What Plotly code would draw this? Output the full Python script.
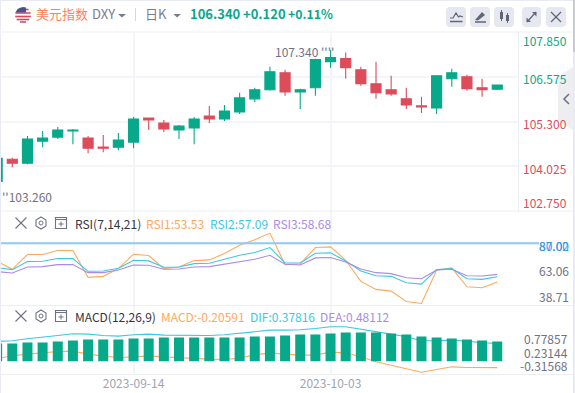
import math
import plotly.graph_objects as go

# ---------- data ----------
dates = ["2023-09-01","2023-09-04","2023-09-05","2023-09-06","2023-09-07","2023-09-08","2023-09-11","2023-09-12","2023-09-13","2023-09-14",
         "2023-09-15","2023-09-18","2023-09-19","2023-09-20","2023-09-21","2023-09-22","2023-09-25","2023-09-26","2023-09-27","2023-09-28",
         "2023-09-29","2023-10-02","2023-10-03","2023-10-04","2023-10-05","2023-10-06","2023-10-09","2023-10-10","2023-10-11","2023-10-12",
         "2023-10-13","2023-10-16","2023-10-17","2023-10-18"]
opens  = [103.595,104.225,104.111,104.741,104.856,105.028,104.827,104.569,104.569,104.713,105.400,105.257,105.056,105.114,105.458,105.372,
          105.572,105.945,106.203,106.690,106.145,106.260,107.005,107.091,106.776,106.374,106.203,105.945,105.744,105.687,106.518,106.575,106.260,106.220]
highs  = [104.260,104.264,104.884,105.028,105.142,105.085,104.884,104.913,104.970,105.429,105.400,105.343,105.200,105.429,105.744,105.773,
          106.117,106.260,106.862,106.776,106.231,107.091,107.340,107.263,106.862,107.005,106.604,106.260,106.002,106.604,106.804,106.632,106.518,106.345]
lows   = [103.260,103.996,104.082,104.569,104.799,104.655,104.397,104.426,104.483,104.541,105.056,104.999,104.799,104.655,105.257,105.314,
          105.515,105.859,106.174,106.031,105.658,106.031,106.833,106.518,106.317,105.945,106.031,105.658,105.544,105.515,106.288,106.174,106.002,106.200]
closes = [104.254,104.111,104.799,104.827,105.056,105.056,104.541,104.541,104.770,105.372,105.343,105.085,105.171,105.372,105.372,105.601,
          105.973,106.203,106.718,106.145,106.203,107.062,107.119,106.833,106.374,106.117,106.088,105.773,105.715,106.604,106.690,106.231,106.203,106.340]

rsi1 = [67.70,62.18,72.30,72.30,75.06,75.06,56.65,57.34,62.64,72.53,71.61,62.64,63.79,68.16,68.62,72.99,78.74,82.42,87.02,
        65.40,65.86,77.13,77.59,68.39,53.89,48.37,47.22,40.09,38.71,61.49,63.10,50.21,49.52,53.53]
rsi2 = [63.33,61.95,67.47,67.70,69.54,69.54,60.79,61.02,62.87,68.39,67.93,63.56,63.79,66.09,66.32,69.08,71.84,73.68,77.13,
        66.55,66.55,73.22,73.45,67.93,61.02,57.80,57.34,52.97,52.05,61.95,62.64,55.73,55.27,57.09]
rsi3 = [60.56,59.64,63.79,64.02,65.40,65.40,59.87,59.87,61.72,65.17,64.94,62.18,62.41,63.79,64.02,65.86,67.70,69.08,71.84,
        65.63,65.17,70.00,70.23,67.24,62.41,59.87,59.18,56.42,55.73,61.72,62.18,57.80,57.57,58.68]
rsi_level = 80.0

macd_line = [0.0145,0.0788,0.1189,0.1510,0.1832,0.1912,0.1189,0.0707,0.0386,0.0547,0.0788,0.0547,0.0305,0.0065,-0.0015,-0.0096,0.0225,0.1028,0.1510,
             0.1189,0.0948,0.0948,0.1671,0.1510,0.0547,-0.0658,-0.1462,-0.2426,-0.3157,-0.2506,-0.1863,-0.2023,-0.2104,-0.2059]
dif_line  = [0.4241,0.4402,0.4884,0.5205,0.5687,0.6089,0.6008,0.5687,0.5526,0.5848,0.6008,0.5767,0.5687,0.5687,0.5687,0.5848,0.6169,0.6570,0.6972,
             0.6972,0.7052,0.7374,0.7786,0.7786,0.7133,0.6570,0.6008,0.5366,0.4402,0.4402,0.4562,0.4321,0.3920,0.3782]
macd_bar_top = [0.3760,0.3760,0.4001,0.4001,0.4241,0.4482,0.4723,0.4723,0.4723,0.4965,0.4965,0.5205,0.5205,0.5205,0.5205,0.5205,0.5205,0.5446,0.5446,
                0.5687,0.5928,0.5928,0.6169,0.6410,0.6410,0.6410,0.6169,0.5928,0.5446,0.5205,0.4965,0.4723,0.4482,0.4241]
macd_bar_base = -0.05

date_ticks = ["2023-09-14","2023-10-03"]
price_grid = [106.575,105.300,104.025]

UP, DOWN = "#08A88B", "#DD4C5A"
ORANGE, CYAN, PURPLE, BLUE = "#FFA95E", "#3CC8E2", "#A98BE8", "#8CC8FA"
GRID, SEP, GRAY = "#F4F5F8", "#ECEEF2", "#6F7285"
FONT = "Noto Sans CJK SC"
W, H = 575, 393

def px(x): return x / W
def py(y): return 1 - y / H

fig = go.Figure()
fig.add_trace(go.Candlestick(x=dates, open=opens, high=highs, low=lows, close=closes, xaxis="x", yaxis="y",
    increasing=dict(line=dict(color=UP, width=1.1), fillcolor=UP),
    decreasing=dict(line=dict(color=DOWN, width=1.1), fillcolor=DOWN), showlegend=False, hoverinfo="skip"))
for vals, c in ((rsi1, ORANGE), (rsi2, CYAN), (rsi3, PURPLE)):
    fig.add_trace(go.Scatter(x=dates, y=vals, mode="lines", xaxis="x", yaxis="y2", line=dict(color=c, width=1.1), showlegend=False, hoverinfo="skip"))
for vals, c in ((macd_line, ORANGE), (dif_line, CYAN)):
    fig.add_trace(go.Scatter(x=dates, y=vals, mode="lines", xaxis="x", yaxis="y3", line=dict(color=c, width=1.1), showlegend=False, hoverinfo="skip"))
fig.add_trace(go.Bar(x=dates, y=[t - macd_bar_base for t in macd_bar_top], base=macd_bar_base, xaxis="x", yaxis="y4",
                     marker=dict(color=UP, line=dict(width=0)), width=0.66, showlegend=False, hoverinfo="skip"))

shapes = []
def rect(x0, y0, x1, y1, fill, line=None, w=0):
    shapes.append(dict(type="rect", xref="paper", yref="paper", x0=px(x0), y0=py(y0), x1=px(x1), y1=py(y1),
                       fillcolor=fill, line=dict(color=line or fill, width=w), layer="above"))
def seg(x0, y0, x1, y1, c, w=1):
    shapes.append(dict(type="line", xref="paper", yref="paper", x0=px(x0), y0=py(y0), x1=px(x1), y1=py(y1),
                       line=dict(color=c, width=w), layer="above"))
def poly(pts, fill=None, line=None, w=1, close=True):
    d = "M" + " L".join(f"{px(a):.5f},{py(b):.5f}" for a, b in pts) + (" Z" if close else "")
    shapes.append(dict(type="path", xref="paper", yref="paper", path=d, fillcolor=fill or "rgba(0,0,0,0)",
                       line=dict(color=line or "rgba(0,0,0,0)", width=w), layer="above"))

# frame
rect(0, 0, 1, H, "#E8EBF3"); rect(0, 0, W, 1, "#E8EBF3"); rect(573, 0, W, H, "#E8EBF3"); rect(573, 0, W, 52, "#C9CBD3")
# separators
seg(0, 32, 573, 32, GRID, 1.5)
seg(1, 211, 573, 211, SEP); seg(1, 305.5, 573, 305.5, SEP); seg(1, 374.5, 573, 374.5, SEP)
seg(518.5, 32, 518.5, 211, SEP)
seg(135.5, 8, 135.5, 21, "#D5D7DF")
# RSI level line runs across the axis gutter
shapes.append(dict(type="line", xref="paper", yref="y2", x0=px(1), x1=px(539), y0=rsi_level, y1=rsi_level,
                   line=dict(color=BLUE, width=2), layer="above"))
# collapse tab
poly([(558, 77), (573, 67), (573, 130), (558, 121)], fill="#EEEEF1")
poly([(569, 94), (564, 99), (569, 104)], line="#6F7285", w=1.6, close=False)
# flag
poly([(23 + 8 * math.cos(a / 16 * 6.2832), 15 + 8 * math.sin(a / 16 * 6.2832)) for a in range(16)], fill="#F3F3F5")
for yy, half in ((9.5, 5.5), (13, 7.6), (16.5, 7.8), (19.5, 6.3), (22, 3)):
    seg(23 - half, yy, 23 + half, yy, "#D9475A", 1.5)
poly([(15.5, 12.5), (17, 10), (19.5, 8), (23, 7), (26, 7.6), (26, 12.5)], fill="#4A5290")
# dropdown arrows
poly([(118, 14), (126, 14), (122, 17.5)], fill="#7A7D8F")
poly([(173.5, 14), (181, 14), (177, 17.5)], fill="#7A7D8F")
# buttons
for a, b in ((446, 466), (470, 490), (494, 514), (522, 541), (546, 566)):
    shapes.append(dict(type="path", xref="paper", yref="paper", layer="above", fillcolor="#E6E8EF", line=dict(width=0),
        path=f"M{px(a+4):.5f},{py(7):.5f} L{px(b-4):.5f},{py(7):.5f} Q{px(b):.5f},{py(7):.5f} {px(b):.5f},{py(11):.5f} "
             f"L{px(b):.5f},{py(23):.5f} Q{px(b):.5f},{py(27):.5f} {px(b-4):.5f},{py(27):.5f} L{px(a+4):.5f},{py(27):.5f} "
             f"Q{px(a):.5f},{py(27):.5f} {px(a):.5f},{py(23):.5f} L{px(a):.5f},{py(11):.5f} Q{px(a):.5f},{py(7):.5f} {px(a+4):.5f},{py(7):.5f} Z"))
IC = "#62657A"
poly([(450, 18), (453, 18), (456, 13), (458.5, 17), (460, 16), (463, 17)], line=IC, w=1.2, close=False)
seg(450, 21.5, 462.5, 21.5, IC, 1.5)
poly([(475, 20), (482, 12), (485, 15), (478, 20.5)], fill=IC)
seg(475, 22, 486, 22, IC, 1.5)
rect(500, 12, 503, 19, IC); seg(501.5, 10, 501.5, 21, IC, 1)
rect(506, 15, 509, 21, IC); seg(507.5, 13, 507.5, 23, IC, 1)
seg(527, 22, 536, 12, IC, 1.2)
poly([(532, 12), (536.5, 12), (536.5, 16.5)], fill=IC); poly([(526.5, 17.5), (526.5, 22), (531, 22)], fill=IC)
seg(551, 12, 561, 22, IC, 1.2); seg(561, 12, 551, 22, IC, 1.2)
# panel controls
for yc in (223, 316):
    seg(15.5, yc - 5.5, 26.5, yc + 5.5, GRAY, 1.1); seg(26.5, yc - 5.5, 15.5, yc + 5.5, GRAY, 1.1)
    poly([(41, yc - 6), (46, yc - 3), (46, yc + 3), (41, yc + 6), (36, yc + 3), (36, yc - 3)], line=GRAY, w=1.1)
    shapes.append(dict(type="circle", xref="paper", yref="paper", x0=px(39), x1=px(43), y0=py(yc - 2), y1=py(yc + 2), line=dict(color=GRAY, width=1), layer="above"))
    rect(55.5, yc - 5.5, 66.5, yc + 5.5, "rgba(0,0,0,0)", GRAY, 1.1)
    seg(55.5, yc - 3.5, 66.5, yc - 3.5, GRAY, 1.1)
    seg(58.5, yc + 1, 63.5, yc + 1, GRAY, 1); seg(61, yc - 1.5, 61, yc + 3.5, GRAY, 1)

ann = []
def label(x, y, t, color, size=12, anchor="left", bold=False):
    ann.append(dict(xref="paper", yref="paper", x=px(x), y=py(y), text=f"<b>{t}</b>" if bold else t, showarrow=False,
                    xanchor=anchor, yanchor="middle", align=anchor, font=dict(family=FONT, size=size, color=color),
                    borderpad=0, borderwidth=0))

label(35.5, 14, "美元指数", "#FF7F5E", 13)
label(91.5, 14, "DXY", "#7A7D8F", 13)
label(145, 14, "日K", "#7A7D8F", 13)
label(190, 14, "106.340", UP, 13, bold=True)
label(243, 14, "+0.120", UP, 13, bold=True)
label(288, 14, "+0.11%", UP, 12.3, bold=True)
label(567, 40.7, "107.850", UP, 12, "right")
label(567, 78.3, "106.575", UP, 12, "right")
label(567, 123.3, "105.300", DOWN, 12, "right")
label(567, 168.3, "104.025", DOWN, 12, "right")
label(567, 202.3, "102.750", DOWN, 12, "right")
label(275, 52, "107.340 ''''", GRAY, 12)
label(2, 196, "''103.260", GRAY, 12)
label(75, 223, "RSI(7,14,21)", "#33353F", 12)
label(146, 223, "RSI1:53.53", ORANGE, 12)
label(210, 223, "RSI2:57.09", CYAN, 12)
label(273, 223, "RSI3:58.68", PURPLE, 12)
label(75, 316, "MACD(12,26,9)", "#33353F", 12)
label(161, 316, "MACD:-0.20591", ORANGE, 12)
label(250, 316, "DIF:0.37816", CYAN, 12)
label(320, 316, "DEA:0.48112", PURPLE, 12)
label(569, 245, "80.00", "#3C96E8", 12, "right")
label(569, 245, "87.02", "#3C96E8", 12, "right")
label(569, 270.3, "63.06", GRAY, 12, "right")
label(569, 296.3, "38.71", GRAY, 12, "right")
label(568, 338.3, "0.77857", GRAY, 12, "right")
label(568, 352.3, "0.23144", GRAY, 12, "right")
label(568, 365.7, "-0.31568", GRAY, 12, "right")

rsi_range = [37.33, 102.2]
macd_range = [-0.371, 1.291]
fig.update_layout(
    width=W, height=H, autosize=False, margin=dict(l=0, r=0, t=0, b=0),
    paper_bgcolor="white", plot_bgcolor="white", showlegend=False,
    boxgap=0.2, boxgroupgap=0.17,
    font=dict(family=FONT), shapes=shapes, annotations=ann,
    xaxis=dict(type="category", categoryorder="array", categoryarray=dates, domain=[0, px(518)], range=[0.188, 34.37],
               anchor="y3", tickmode="array", tickvals=date_ticks, ticktext=date_ticks, ticks="", showline=False, zeroline=False,
               showgrid=True, gridcolor=GRID, gridwidth=1.5, tickfont=dict(family=FONT, size=12, color="#A0A3B5"),
               rangeslider=dict(visible=False), fixedrange=True),
    yaxis=dict(domain=[py(211), py(32)], range=[102.75, 107.85], anchor="x", tickmode="array", tickvals=price_grid,
               showticklabels=False, ticks="", showgrid=True, gridcolor=GRID, gridwidth=1.5, zeroline=False, fixedrange=True),
    yaxis2=dict(domain=[py(305.5), py(211)], range=rsi_range, anchor="x", showticklabels=False, ticks="", showgrid=False, zeroline=False, fixedrange=True),
    yaxis3=dict(domain=[py(374.5), py(305.5)], range=macd_range, anchor="x", showticklabels=False, ticks="", showgrid=False, zeroline=False, fixedrange=True),
    yaxis4=dict(overlaying="y3", range=macd_range, anchor="x", showticklabels=False, ticks="", showgrid=False, zeroline=False, fixedrange=True),
)
fig.write_html("out.html", config=dict(displayModeBar=False),
               post_script="document.body.style.margin='0';document.body.style.overflow='hidden';")
